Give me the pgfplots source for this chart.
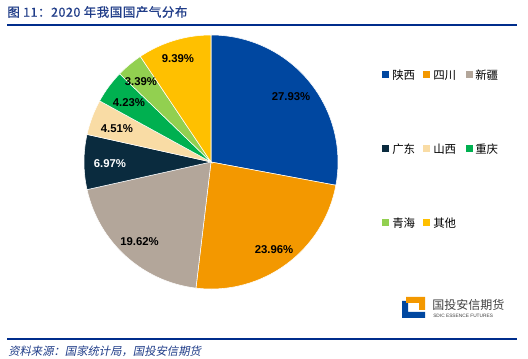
\documentclass[border=0pt]{standalone}
\usepackage{pgfplots}
\pgfplotsset{compat=1.18}
\usepackage{fontspec}
\setmainfont{Liberation Sans}
\newfontfamily\cjk{Noto Sans CJK SC}
\newfontfamily\cjkt[FakeBold=0.6, LetterSpace=4]{Noto Sans CJK SC}
\newfontfamily\cjksl[FakeSlant=0.2]{Noto Sans CJK SC}
\definecolor{cSX}{HTML}{0047A0}
\definecolor{cSC}{HTML}{F39800}
\definecolor{cXJ}{HTML}{B3A69A}
\definecolor{cGD}{HTML}{0A2B3E}
\definecolor{cSXi}{HTML}{F9DCA5}
\definecolor{cCQ}{HTML}{00B050}
\definecolor{cQH}{HTML}{92D050}
\definecolor{cQT}{HTML}{FFC000}
\definecolor{titleblue}{HTML}{1F3C88}
\definecolor{lineblue}{HTML}{002D8C}
\begin{document}
\begin{tikzpicture}
\begin{axis}[scale only axis, width=396pt, height=269.25pt,
  xmin=0, xmax=528, ymin=0, ymax=359, y dir=reverse, hide axis, clip=false]
\path (axis cs:0,0) rectangle (axis cs:528,359);
% title and rules
\node[anchor=west, text=titleblue, font=\cjkt\fontsize{9.4}{10}\selectfont, inner sep=0pt] at (axis cs:7,12) {图 11：2020 年我国国产气分布};
\draw[lineblue, line width=1.2pt] (axis cs:7,25) -- (axis cs:517,25);
\draw[lineblue, line width=1.6pt] (axis cs:7,339) -- (axis cs:517,339);
\node[anchor=west, text=titleblue, font=\cjksl\fontsize{8.5}{10}\selectfont, inner sep=0pt] at (axis cs:8,351) {资料来源：国家统计局，国投安信期货};
% pie: values 27.93, 23.96, 19.62, 6.97, 4.51, 4.23, 3.39, 9.39 (percent), clockwise from top
\def\R{95.25pt}
\fill[cSX, draw=white, line width=0.4pt] (axis cs:211,162) -- ++(90:\R) arc[start angle=90, end angle={90-3.6*27.93}, radius=\R] -- cycle;
\fill[cSC, draw=white, line width=0.4pt] (axis cs:211,162) -- ++({90-3.6*27.93}:\R) arc[start angle={90-3.6*27.93}, end angle={90-3.6*(27.93+23.96)}, radius=\R] -- cycle;
\fill[cXJ, draw=white, line width=0.4pt] (axis cs:211,162) -- ++({90-3.6*51.89}:\R) arc[start angle={90-3.6*51.89}, end angle={90-3.6*(51.89+19.62)}, radius=\R] -- cycle;
\fill[cGD, draw=white, line width=0.4pt] (axis cs:211,162) -- ++({90-3.6*71.51}:\R) arc[start angle={90-3.6*71.51}, end angle={90-3.6*(71.51+6.97)}, radius=\R] -- cycle;
\fill[cSXi, draw=white, line width=0.4pt] (axis cs:211,162) -- ++({90-3.6*78.48}:\R) arc[start angle={90-3.6*78.48}, end angle={90-3.6*(78.48+4.51)}, radius=\R] -- cycle;
\fill[cCQ, draw=white, line width=0.4pt] (axis cs:211,162) -- ++({90-3.6*82.99}:\R) arc[start angle={90-3.6*82.99}, end angle={90-3.6*(82.99+4.23)}, radius=\R] -- cycle;
\fill[cQH, draw=white, line width=0.4pt] (axis cs:211,162) -- ++({90-3.6*87.22}:\R) arc[start angle={90-3.6*87.22}, end angle={90-3.6*(87.22+3.39)}, radius=\R] -- cycle;
\fill[cQT, draw=white, line width=0.4pt] (axis cs:211,162) -- ++({90-3.6*90.61}:\R) arc[start angle={90-3.6*90.61}, end angle={90-3.6*(90.61+9.39)}, radius=\R] -- cycle;
% labels
\tikzset{pl/.style={font=\bfseries\fontsize{8.5}{10}\selectfont, inner sep=0pt, text=black}}
\node[pl] at (axis cs:291,97) {27.93\%};
\node[pl] at (axis cs:274,250) {23.96\%};
\node[pl] at (axis cs:139.5,242) {19.62\%};
\node[pl, text=white] at (axis cs:110,164) {6.97\%};
\node[pl] at (axis cs:117,129) {4.51\%};
\node[pl] at (axis cs:129,103) {4.23\%};
\node[pl] at (axis cs:141,82) {3.39\%};
\node[pl] at (axis cs:178,59) {9.39\%};
% legend
\tikzset{lt/.style={anchor=west, font=\cjk\fontsize{8.6}{10}\selectfont, inner sep=0pt}}
\fill[cSX] (axis cs:382,71.5) rectangle (axis cs:389,78.5);
\node[lt] at (axis cs:392,75) {陕西};
\fill[cSC] (axis cs:423,71.5) rectangle (axis cs:430,78.5);
\node[lt] at (axis cs:433,75) {四川};
\fill[cXJ] (axis cs:466,71.5) rectangle (axis cs:473,78.5);
\node[lt] at (axis cs:475,75) {新疆};
\fill[cGD] (axis cs:382,145.5) rectangle (axis cs:389,152.5);
\node[lt] at (axis cs:392,149) {广东};
\fill[cSXi] (axis cs:423,145.5) rectangle (axis cs:430,152.5);
\node[lt] at (axis cs:433,149) {山西};
\fill[cCQ] (axis cs:466,145.5) rectangle (axis cs:473,152.5);
\node[lt] at (axis cs:475,149) {重庆};
\fill[cQH] (axis cs:382,219.5) rectangle (axis cs:389,226.5);
\node[lt] at (axis cs:392,223) {青海};
\fill[cQT] (axis cs:423,219.5) rectangle (axis cs:430,226.5);
\node[lt] at (axis cs:433,223) {其他};
% logo
\fill[cSX] (axis cs:402,301) -- (axis cs:408,301) -- (axis cs:408,312) -- (axis cs:425,312) -- (axis cs:425,318) -- (axis cs:402,318) -- cycle;
\fill[cSC] (axis cs:406,297) -- (axis cs:425,297) -- (axis cs:425,310) -- (axis cs:419,310) -- (axis cs:419,303) -- (axis cs:406,303) -- cycle;
\node[anchor=west, font=\cjk\fontsize{9}{10}\selectfont, text=black!75, inner sep=0pt] at (axis cs:432,305) {国投安信期货};
\node[anchor=west, font=\fontsize{3.6}{4}\selectfont, text=black!75, inner sep=0pt] at (axis cs:433,316) {SDIC ESSENCE FUTURES};
\end{axis}
\end{tikzpicture}
\end{document}
